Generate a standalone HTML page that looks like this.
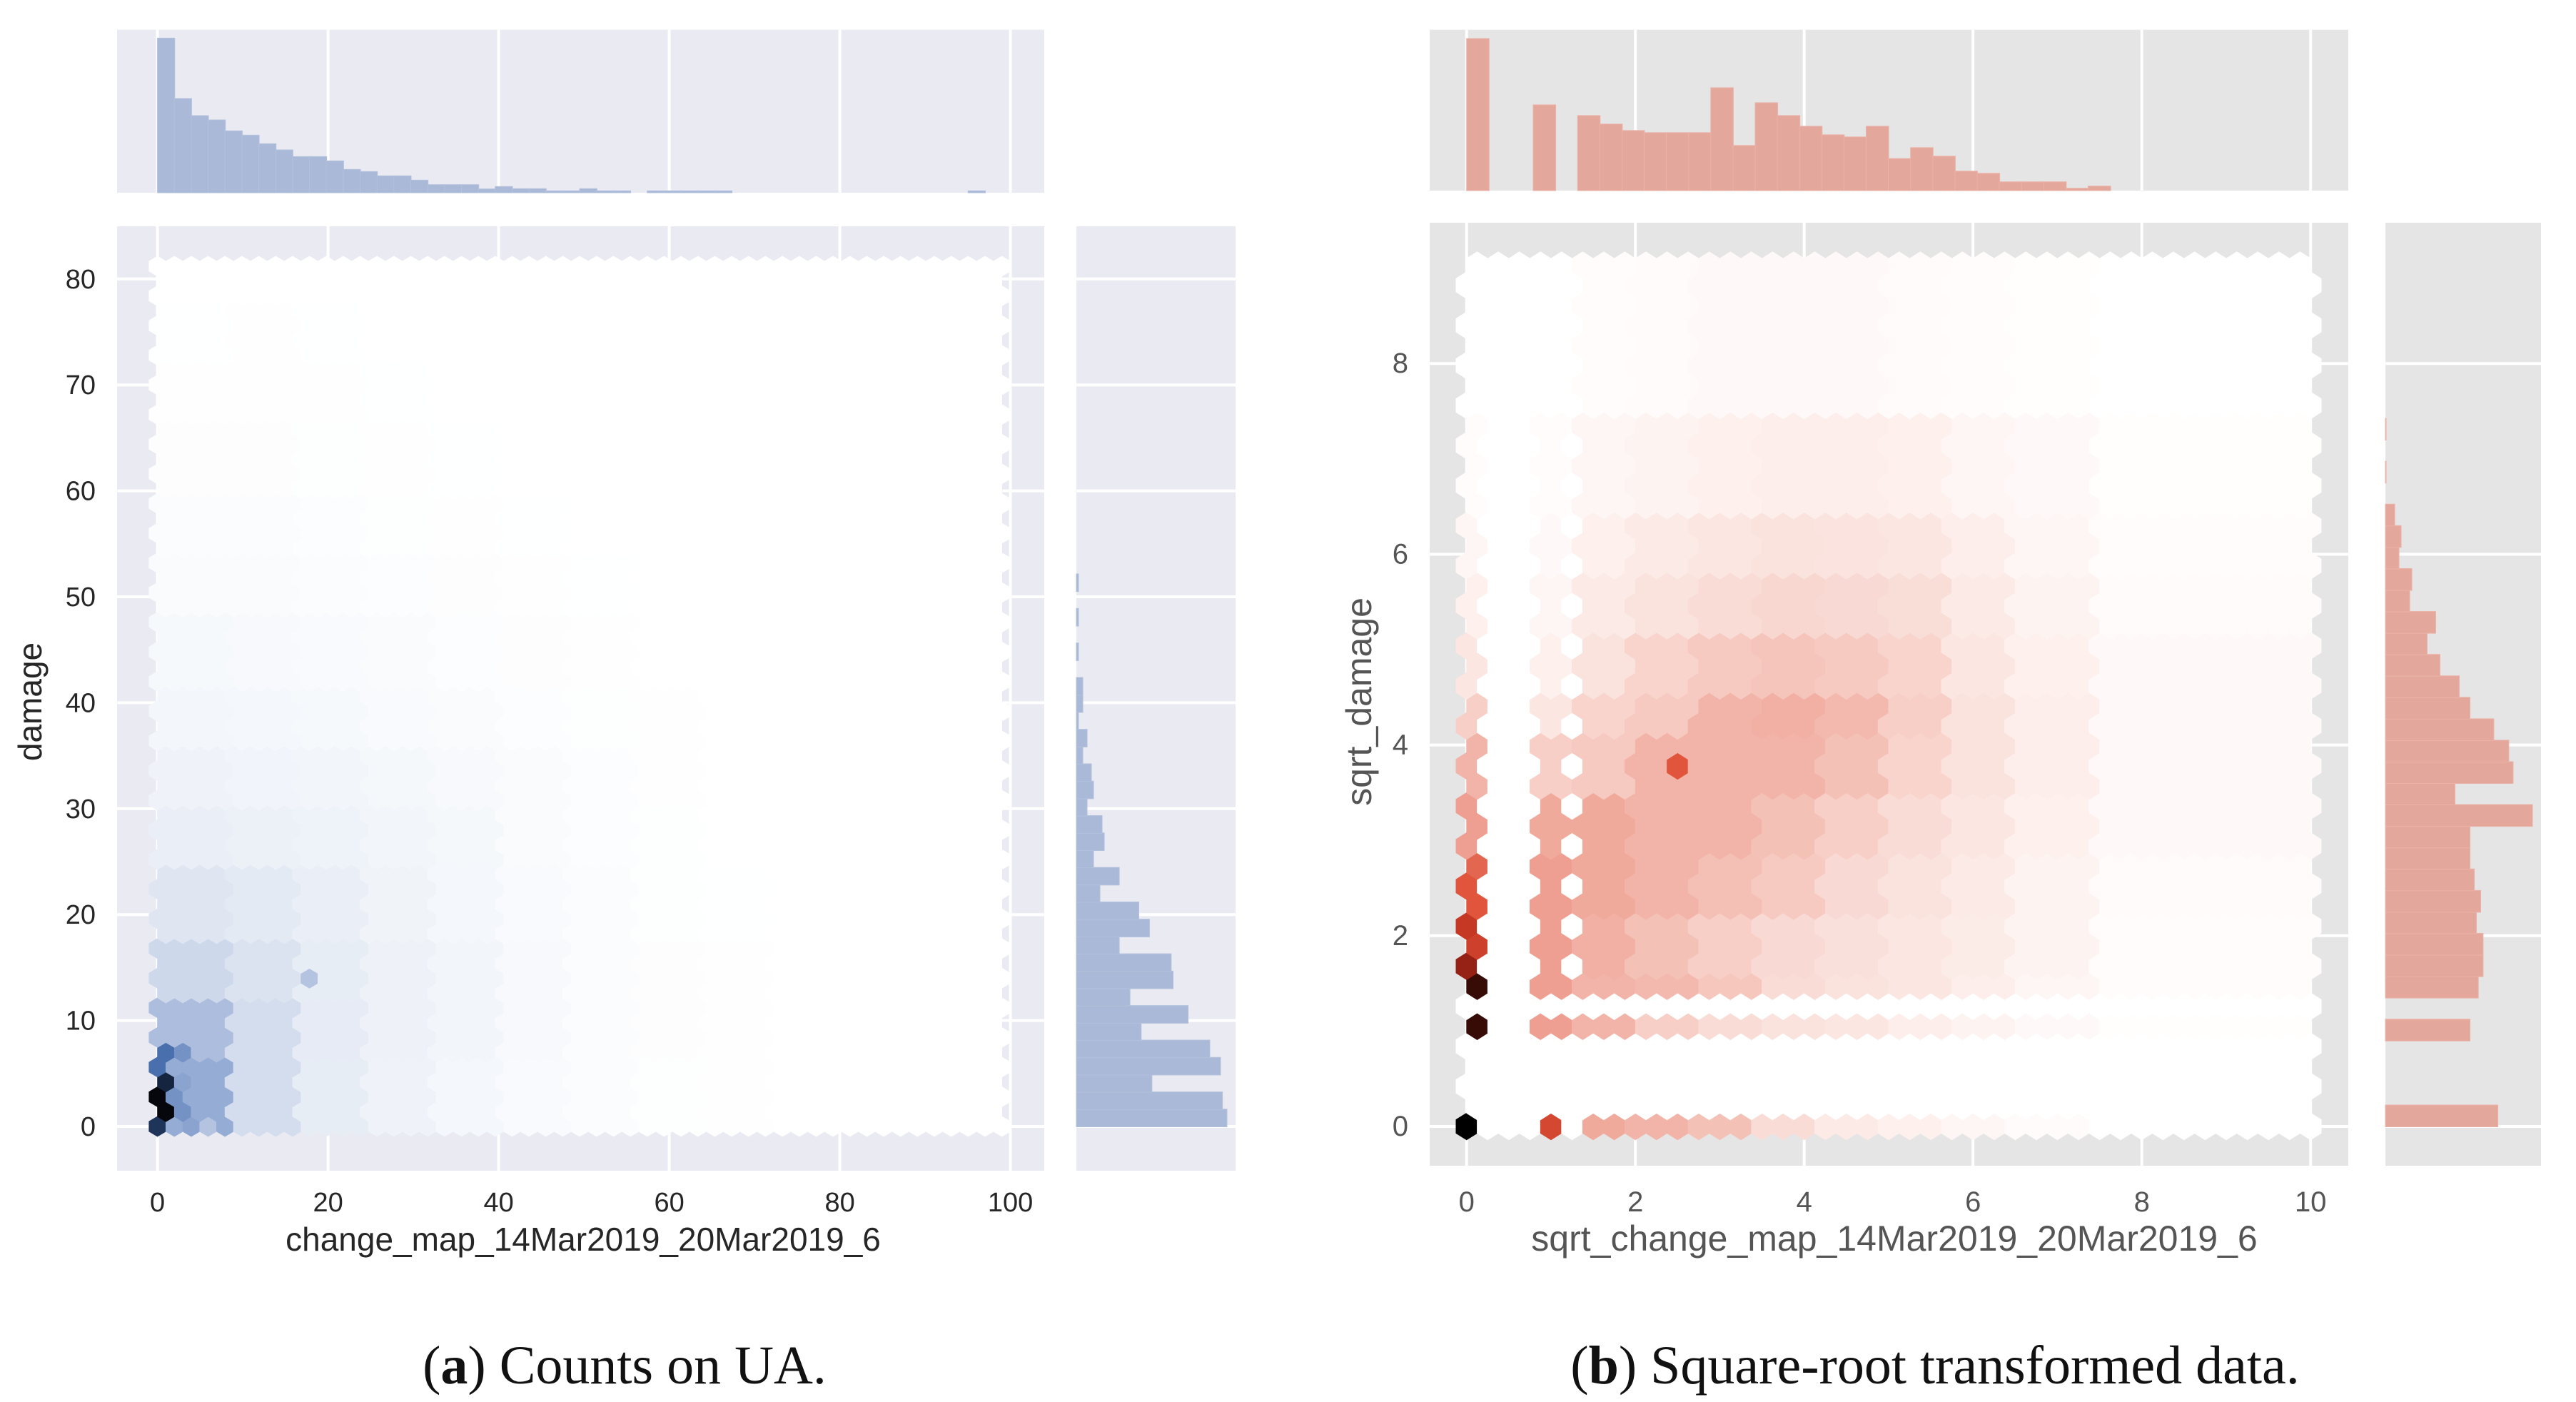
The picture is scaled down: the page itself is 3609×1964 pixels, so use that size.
<!DOCTYPE html>
<html><head><meta charset="utf-8"><style>
html,body{margin:0;padding:0;background:#fff;}
svg{display:block;font-family:"Liberation Sans",sans-serif;}
.cap{font-family:"Liberation Serif",serif;}
</style></head><body>
<svg id="fig" width="3609" height="1964" viewBox="0 0 3609 1964" xmlns="http://www.w3.org/2000/svg">
<g id="left"></g>
<g id="right"></g>
<text class="cap" x="875" y="1938" font-size="76" text-anchor="middle" fill="#111">(<tspan font-weight="bold">a</tspan>) Counts on UA.</text>
<text class="cap" x="2711" y="1938" font-size="76" text-anchor="middle" fill="#111">(<tspan font-weight="bold">b</tspan>) Square-root transformed data.</text>
</svg>
<script>
// ---------- Panel A data ----------
const aXTicks = [0,20,40,60,80,100];
const aYTicks = [0,10,20,30,40,50,60,70,80];
const aTopBinWidth = 1.98;
const aTopCounts = [650,396,324,306,260,242,206,180,152,152,134,98,89,71,71,53,34,34,34,16,26,17,17,8,8,17,8,8,0,8,8,8,8,8,0,0,0,0,0,0,0,0,0,0,0,0,0,0,8];
const aSideBinWidth = 1.63;
const aSideCounts = [632,613,317,605,560,272,469,225,406,398,180,307,262,99,180,72,117,108,45,72,63,27,45,9,27,27,0,9,0,9,0,9];
const aCellXW = 8, aCellYH = 6;
const aDensity = [
 [4.6,2.2,1.3,0.8,0.5,0.3,0.18,0.08,0.04,0,0,0,0],
 [3.8,2.2,1.4,0.9,0.6,0.35,0.2,0.1,0.04,0,0,0,0],
 [2.5,1.9,1.3,0.9,0.6,0.35,0.2,0.1,0.04,0,0,0,0],
 [1.7,1.5,1.1,0.75,0.5,0.3,0.18,0.08,0.03,0,0,0,0],
 [1.1,1,0.85,0.6,0.45,0.25,0.15,0.07,0.02,0,0,0,0],
 [0.8,0.7,0.6,0.45,0.35,0.22,0.12,0.06,0.02,0,0,0,0],
 [0.55,0.5,0.4,0.3,0.22,0.15,0.08,0.04,0,0,0,0,0],
 [0.4,0.35,0.3,0.22,0.15,0.1,0.05,0.02,0,0,0,0,0],
 [0.25,0.25,0.2,0.15,0.1,0.06,0.03,0,0,0,0,0,0],
 [0.18,0.16,0.12,0.08,0.06,0.03,0,0,0,0,0,0,0],
 [0.1,0.1,0.08,0.05,0.03,0,0,0,0,0,0,0,0],
 [0.06,0.06,0.05,0.03,0,0,0,0,0,0,0,0,0],
 [0.03,0.04,0.03,0,0,0,0,0,0,0,0,0,0],
 [0.02,0.02,0,0,0,0,0,0,0,0,0,0,0]
];
const aOverX = [0,1,0,1,0,1,2.9,2.9,3.9,3.9,5.8,1.9,17.5];
const aOverY = [0,1.4,2.8,4.2,5.6,7,7,1.4,4.2,0,0,2.8,14];
const aOverLevel = [8.5,10,10,9,6.5,6.5,5.5,5.5,5,5,3.5,5.5,3.5];

// ---------- Panel B data ----------
const bXTicks = [0,2,4,6,8,10];
const bYTicks = [0,2,4,6,8];
const bTopBinWidth = 0.263;
const bTopCounts = [640,0,0,361,0,316,280,253,244,244,244,433,190,370,316,271,235,226,271,135,181,145,82,73,37,37,37,10,19];
const bSideBinWidth = 0.225;
const bSideCounts = [472,0,0,0,355,0,390,410,410,382,400,373,355,355,617,292,536,518,455,355,310,229,175,211,102,111,57,66,39,0,3,0,3];
const bColLo = [-0.2,0.8,1.3,2,2.75,3.5,4.25,5,5.75,6.5,7.5];
const bColHi = [0.2,1.15,2,2.75,3.5,4.25,5,5.75,6.5,7.5,10.5];
const bRowLo = [-0.1,0.95,1.35,1.6,2.2,2.8,3.4,4,4.6,5.2,5.8,6.5,7.5];
const bRowHi = [0.1,1.15,1.6,2.2,2.8,3.4,4,4.6,5.2,5.8,6.5,7.5,9.5];
const bDensity = [
 [10,6.5,3.5,3,2.5,1.5,0.8,0.5,0.3,0.15,0],
 [9,4,3,2,1.5,1.2,1,0.6,0.4,0.2,0.05],
 [9,4,3,2.8,2.3,1.5,1.2,1,0.6,0.3,0.1],
 [7,4,3.2,2.5,2,1.6,1.3,1,0.7,0.4,0.1],
 [6,4,3.5,3,2.6,2.2,1.6,1.2,0.8,0.4,0.15],
 [4,3.5,3.5,3,3,2.5,2,1.5,1,0.5,0.2],
 [3,2,2.2,3,3,3,2.5,1.8,1.2,0.6,0.2],
 [2,1,1.8,2.2,3,3.2,2.8,2,1.2,0.6,0.2],
 [1,0.5,1.2,1.8,2.2,2.4,2.2,1.8,1,0.5,0.2],
 [0.5,0.3,0.8,1.2,1.5,1.7,1.6,1.4,0.8,0.4,0.15],
 [0.3,0.2,0.5,0.8,1,1.2,1.1,1,0.6,0.3,0.1],
 [0.1,0.1,0.3,0.4,0.5,0.6,0.6,0.5,0.3,0.2,0.05],
 [0,0,0.1,0.15,0.2,0.2,0.2,0.15,0.1,0.05,0]
];
const bOverX = [0,0.125,0.125,0,0,0.125,0,1,2.5];
const bOverY = [0,1.05,1.47,1.68,2.1,2.31,2.52,0,3.78];
const bOverLevel = [10,9.3,9.3,8,7.2,6.5,6.5,6.8,6.5];

// ---------- helpers ----------
const NS = "http://www.w3.org/2000/svg";
function mk(parent, tag, attrs, text){
  const e = document.createElementNS(NS, tag);
  for (const k in attrs) e.setAttribute(k, attrs[k]);
  if (text !== undefined) e.textContent = text;
  parent.appendChild(e);
  return e;
}
function hex2rgb(h){return [parseInt(h.slice(1,3),16),parseInt(h.slice(3,5),16),parseInt(h.slice(5,7),16)];}
function cmap(stops, t){
  t = Math.max(0, Math.min(1, t));
  for (let i=1;i<stops.length;i++){
    if (t <= stops[i][0]){
      const a = stops[i-1], b = stops[i];
      const f = (t-a[0])/(b[0]-a[0]);
      const ca = hex2rgb(a[1]), cb = hex2rgb(b[1]);
      return "rgb(" + ca.map((v,j)=>Math.round(v+(cb[j]-v)*f)).join(",") + ")";
    }
  }
  return stops[stops.length-1][1];
}
const blueStops = [[0,"#ffffff"],[0.05,"#f4f7fb"],[0.15,"#e4eaf4"],[0.3,"#c2cfe6"],[0.5,"#8aa3cf"],[0.65,"#4a6fad"],[0.85,"#1f3459"],[1,"#05070c"]];
const redStops = [[0,"#ffffff"],[0.05,"#fdf0ed"],[0.15,"#f9dcd6"],[0.3,"#f2b4a8"],[0.5,"#ea8a79"],[0.65,"#e0553c"],[0.75,"#b92b1a"],[0.9,"#4e1009"],[1,"#000000"]];

function hexPts(cx, cy, w, r){
  return [[cx,cy-r],[cx+w/2,cy-r/2],[cx+w/2,cy+r/2],[cx,cy+r],[cx-w/2,cy+r/2],[cx-w/2,cy-r/2]].map(p=>p[0].toFixed(1)+","+p[1].toFixed(1)).join(" ");
}

function panel(cfg){
  const g = document.getElementById(cfg.id);
  const {xS, yS} = cfg;
  const ax = mk(g,"rect",{x:cfg.main[0],y:cfg.main[1],width:cfg.main[2]-cfg.main[0],height:cfg.main[3]-cfg.main[1],fill:cfg.bg});
  
  
  cfg.xTicks.forEach(v=>{
    const l = mk(g,"line",{x1:xS(v),x2:xS(v),y1:cfg.main[1],y2:cfg.main[3],stroke:"#fff","stroke-width":4});
    
    
  });
  cfg.yTicks.forEach(v=>{
    const l = mk(g,"line",{x1:cfg.main[0],x2:cfg.main[2],y1:yS(v),y2:yS(v),stroke:"#fff","stroke-width":4});
    
    
  });
  const hg = mk(g,"g",{});
  
  
  const sx = cfg.sx, hy = cfg.halfRow;
  const wpx = Math.abs(xS(sx)-xS(0));
  const rpx = Math.abs(yS(hy)-yS(0))/1.5;
  const nRows = Math.round((cfg.yMax-cfg.yMin)/hy);
  const nCols = Math.round((cfg.xMax-cfg.xMin)/sx);
  for (let j=0;j<=nRows;j++){
    const y = cfg.yMin + j*hy;
    const odd = j%2===1;
    const nc = odd ? nCols : nCols+1;
    for (let i=0;i<nc;i++){
      const x = cfg.xMin + (odd ? (i+0.5)*sx : i*sx);
      let lev = cfg.level(x,y);
      for (let k=0;k<cfg.overX.length;k++){
        if (Math.abs(cfg.overX[k]-x) < sx*0.5 && Math.abs(cfg.overY[k]-y) < hy*0.5) lev = cfg.overLevel[k];
      }
      const p = mk(hg,"polygon",{points:hexPts(xS(x),yS(y),wpx+0.8,rpx+0.6),fill:cmap(cfg.stops,lev/10)});
      
      
    }
  }
  cfg.xTicks.forEach(v=>{
    const t = mk(g,"text",{x:xS(v),y:1697,"font-size":cfg.tickFs,"text-anchor":"middle",fill:cfg.tc},String(v));
    
    
  });
  cfg.yTicks.forEach(v=>{
    const t = mk(g,"text",{x:cfg.yLabelX,y:yS(v)+13,"font-size":cfg.tickFs,"text-anchor":"end",fill:cfg.tc},String(v));
    
    
  });
  const xl = mk(g,"text",{x:cfg.xTitle[0],y:cfg.xTitle[1],"font-size":cfg.titleFs,"text-anchor":"middle",fill:cfg.tc},cfg.xTitleText);
  
  
  const yl = mk(g,"text",{x:0,y:0,"font-size":cfg.titleFs,"text-anchor":"middle",fill:cfg.tc,transform:"translate("+cfg.yTitle[0]+","+cfg.yTitle[1]+") rotate(-90)"},cfg.yTitleText);
  
  

  const T = cfg.top;
  const tr = mk(g,"rect",{x:T[0],y:T[1],width:T[2]-T[0],height:T[3]-T[1],fill:cfg.bg});
  
  
  cfg.xTicks.forEach(v=>{
    const l = mk(g,"line",{x1:xS(v),x2:xS(v),y1:T[1],y2:T[3],stroke:"#fff","stroke-width":4});
    
    
  });
  const tScale = v => T[3] - v/cfg.topMax*(T[3]-T[1]);
  cfg.topCounts.forEach((c,i)=>{
    if (!c) return;
    const x0 = xS(i*cfg.topBW), x1 = xS((i+1)*cfg.topBW);
    const b = mk(g,"rect",{x:x0,y:tScale(c),width:x1-x0+0.5,height:T[3]-tScale(c),fill:cfg.barFill,stroke:cfg.barStroke,"stroke-width":1});
    
    
  });
  const S = cfg.side;
  const sr = mk(g,"rect",{x:S[0],y:S[1],width:S[2]-S[0],height:S[3]-S[1],fill:cfg.bg});
  
  
  cfg.yTicks.forEach(v=>{
    const l = mk(g,"line",{x1:S[0],x2:S[2],y1:yS(v),y2:yS(v),stroke:"#fff","stroke-width":4});
    
    
  });
  const sScale = v => v/cfg.sideMax*(S[2]-S[0]);
  cfg.sideCounts.forEach((c,i)=>{
    if (!c) return;
    const y0 = yS((i+1)*cfg.sideBW), y1 = yS(i*cfg.sideBW);
    const b = mk(g,"rect",{x:S[0],y:y0,width:sScale(c),height:y1-y0+0.5,fill:cfg.barFill,stroke:cfg.barStroke,"stroke-width":1});
    
    
  });
}

function idx(v, lo, hi){ for (let i=0;i<lo.length;i++) if (v>=lo[i] && v<hi[i]) return i; return -1; }

panel({
  id:"left", bg:"#eaeaf2", tc:"#262626", stops:blueStops, tickFs:38, titleFs:46,
  xS: v => 220.6 + v*11.95, yS: v => 1578 - v*14.84,
  main:[164,317,1463,1640], top:[164,41.7,1463,270], side:[1508,317,1731,1640],
  xTicks:aXTicks, yTicks:aYTicks,
  sx:1.98, halfRow:1.4, xMin:0, xMax:99, yMin:0, yMax:81.2,
  level:(x,y)=>{ const c=Math.floor(x/aCellXW), r=Math.floor(y/aCellYH);
    if (r<0||r>=aDensity.length||c<0||c>=aDensity[0].length) return 0; return aDensity[r][c]; },
  overX:aOverX, overY:aOverY, overLevel:aOverLevel,
  topCounts:aTopCounts, topBW:aTopBinWidth, topMax:685,
  sideCounts:aSideCounts, sideBW:aSideBinWidth, sideMax:668,
  barFill:"#a9b9d7", barStroke:"#b3c1dc",
  yLabelX:134, xTitle:[817,1752], xTitleText:"change_map_14Mar2019_20Mar2019_6",
  yTitle:[58,983], yTitleText:"damage"
});
panel({
  id:"right", bg:"#e5e5e5", tc:"#555555", stops:redStops, tickFs:40, titleFs:50,
  xS: v => 2054.7 + v*118.25, yS: v => 1578 - v*133.6,
  main:[2003,312,3290,1633], top:[2003,41.7,3290,267], side:[3342,312,3560,1633],
  xTicks:bXTicks, yTicks:bYTicks,
  sx:0.25, halfRow:0.21, xMin:0, xMax:10, yMin:0, yMax:9.03,
  level:(x,y)=>{ const c=idx(x,bColLo,bColHi), r=idx(y,bRowLo,bRowHi);
    if (c<0||r<0) return 0; return bDensity[r][c]; },
  overX:bOverX, overY:bOverY, overLevel:bOverLevel,
  topCounts:bTopCounts, topBW:bTopBinWidth, topMax:677,
  sideCounts:bSideCounts, sideBW:bSideBinWidth, sideMax:653,
  barFill:"#e4a79c", barStroke:"#ebb3a9",
  yLabelX:1973, xTitle:[2654,1752], xTitleText:"sqrt_change_map_14Mar2019_20Mar2019_6",
  yTitle:[1921,983], yTitleText:"sqrt_damage"
});
</script>
</body></html>
